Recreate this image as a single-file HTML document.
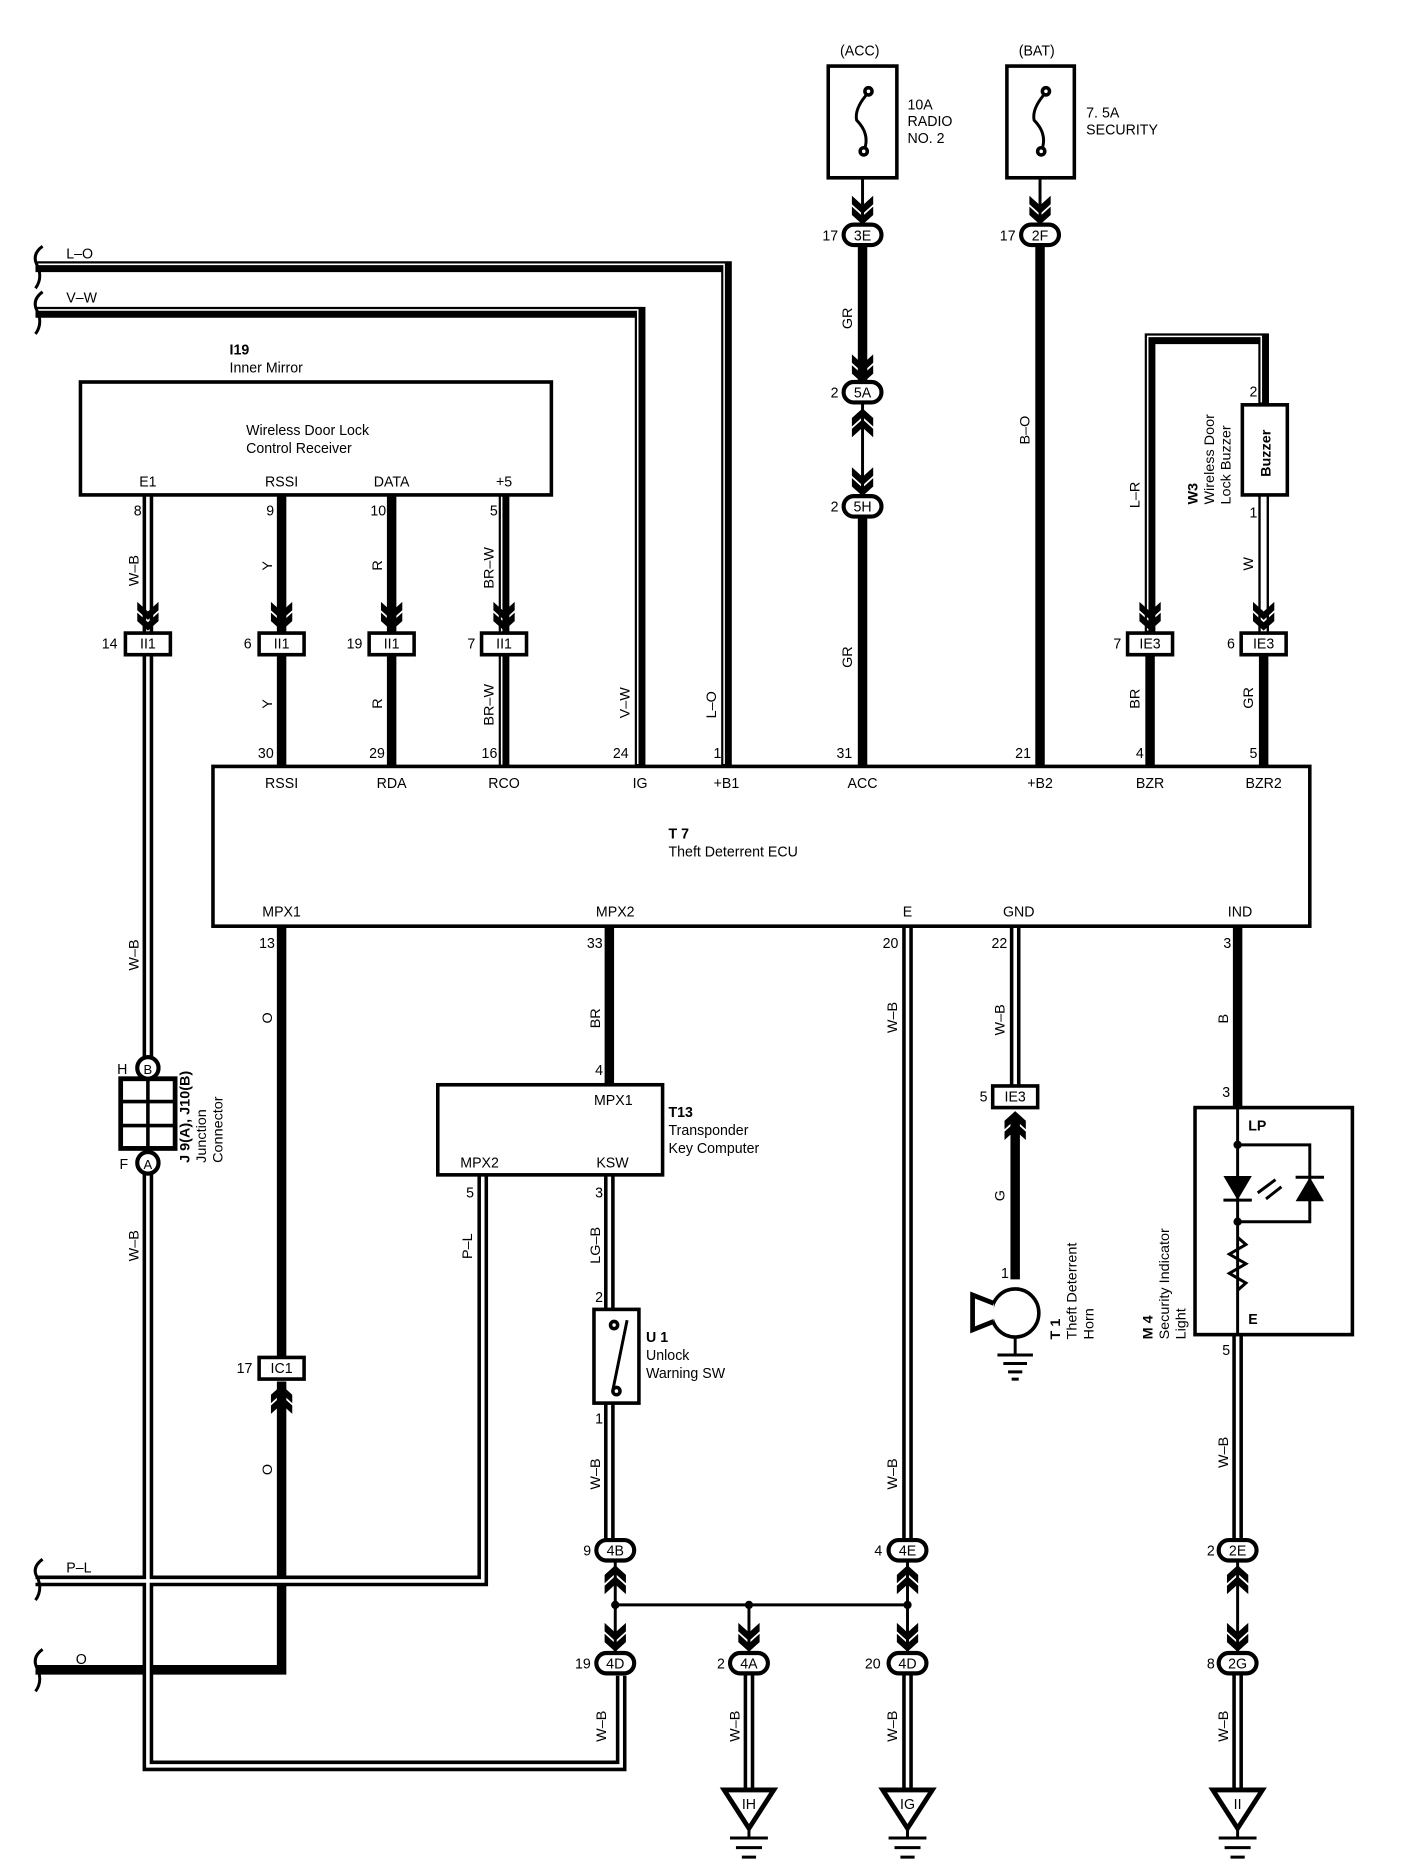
<!DOCTYPE html>
<html><head><meta charset="utf-8"><style>
html,body{margin:0;padding:0;background:#fff;}
svg{display:block}
text{font-family:"Liberation Sans",sans-serif;font-size:12px;fill:#000}
.b{font-weight:bold}
.k{fill:none;stroke:#000;stroke-width:8}
.dk{fill:none;stroke:#000;stroke-width:9}
.dw{fill:none;stroke:#fff;stroke-width:3}
.sw{fill:none;stroke:#fff;stroke-width:1.3}
.t{fill:none;stroke:#000;stroke-width:2.5}
.box{fill:#fff;stroke:#000;stroke-width:3}
.cb{fill:#fff;stroke:#000;stroke-width:3}
.ov{fill:#fff;stroke:#000;stroke-width:3.5}
</style></head><body>
<svg width="1408" height="1874" viewBox="0 0 1190 1560" preserveAspectRatio="none" xmlns="http://www.w3.org/2000/svg">
<defs>
<path id="chd" d="M-9,-18 L0,-10 L9,-18 L9,-11 L0,-3 L-9,-11 Z M-9,-27 L0,-19 L9,-27 L9,-20 L0,-12 L-9,-20 Z" fill="#000"/>
</defs>

<!-- thick wires -->
<path class="k" d="M729 205 V318"/>
<path class="k" d="M729 430 V638"/>
<path class="k" d="M879 205 V638"/>
<path class="k" d="M238 412 V527 M238 545 V638"/>
<path class="k" d="M331 412 V527 M331 545 V638"/>
<path class="k" d="M238 771 V1130 M238 1150 V1390 H30"/>
<path class="k" d="M515 771 V903"/>
<path class="k" d="M972 545 V638 M1068 545 V638"/>
<path class="k" d="M1046 771 V922"/>
<path class="k" d="M858 930 V1065"/>

<!-- striped wires -->
<path class="dk" d="M30 222 H614 V638"/><path class="sw" d="M30 222 H614 V638" transform="translate(-2,-2)"/>
<path class="dk" d="M30 260 H541 V638"/><path class="sw" d="M30 260 H541 V638" transform="translate(-2,-2)"/>
<path class="dk" d="M426 412 V527 M426 545 V638"/><path class="sw" d="M426 412 V527 M426 545 V638" transform="translate(-2,0)"/>
<path class="dk" d="M972 527 V282 H1068 V337"/><path class="sw" d="M972 527 V282 H1068 V337" transform="translate(-2,-2)"/>

<!-- double wires -->
<g>
<path class="dk" d="M125 412 V527 M125 545 V880 M125 975 V1470 H525 V1395"/>
<path class="dk" d="M408 978 V1316 H30"/>
<path class="dk" d="M515 978 V1090 M515 1168 V1282"/>
<path class="dk" d="M767 771 V1282"/>
<path class="dk" d="M858 771 V904"/>
<path class="dk" d="M1046 1111 V1282"/>
<path class="dk" d="M633 1393 V1492 M767 1393 V1492 M1046 1393 V1492"/>
<path class="dw" d="M125 412 V527 M125 545 V880 M125 975 V1470 H525 V1395"/>
<path class="dw" d="M408 978 V1316 H30"/>
<path class="dw" d="M515 978 V1090 M515 1168 V1282"/>
<path class="dw" d="M767 771 V1282"/>
<path class="dw" d="M858 771 V904"/>
<path class="dw" d="M1046 1111 V1282"/>
<path class="dw" d="M633 1393 V1492 M767 1393 V1492 M1046 1393 V1492"/>
<path d="M1068 412 V527" fill="none" stroke="#000" stroke-width="9"/>
<path d="M1068 412 V527" fill="none" stroke="#fff" stroke-width="5"/>
</g>

<!-- wire brace ends -->
<path d="M36 205 Q26 212 32 222 Q36 232 30 240 M36 243 Q26 250 32 260 Q36 270 30 278" class="t" stroke-width="3"/>
<path d="M36 1298 Q26 1305 32 1314 Q36 1324 30 1332 M36 1373 Q26 1380 32 1390 Q36 1400 30 1408" class="t" stroke-width="3"/>

<!-- thin wires -->
<path class="t" d="M729 100 V187 M879 100 V187 M729 336 V413"/>
<path class="t" d="M520 1298 V1376 M520 1336 H767 M633 1336 V1376 M767 1298 V1376 M1046 1298 V1376"/>
<circle cx="520" cy="1336" r="3.5"/><circle cx="633" cy="1336" r="3.5"/><circle cx="767" cy="1336" r="3.5"/>

<!-- fuses -->
<rect x="700" y="55" width="58" height="93" class="box" stroke-width="4"/>
<rect x="851" y="55" width="57" height="93" class="box" stroke-width="4"/>
<path d="M734 77 Q722 90 724 100 Q736 112 730 126" class="t" stroke-width="4"/>
<path d="M884 77 Q872 90 874 100 Q886 112 880 126" class="t" stroke-width="4"/>
<circle cx="734" cy="76" r="3" class="box" stroke-width="2"/><circle cx="730" cy="126" r="3" class="box" stroke-width="2"/>
<circle cx="884" cy="76" r="3" class="box" stroke-width="2"/><circle cx="880" cy="126" r="3" class="box" stroke-width="2"/>
<text x="710" y="46">(ACC)</text><text x="861" y="46">(BAT)</text>
<text x="767" y="91">10A</text><text x="767" y="105">RADIO</text><text x="767" y="119">NO. 2</text>
<text x="918" y="98">7. 5A</text><text x="918" y="112">SECURITY</text>

<!-- chevrons -->
<use href="#chd" x="729" y="190"/><use href="#chd" x="879" y="190"/>
<use href="#chd" x="729" y="322"/>
<use href="#chd" x="729" y="337" transform="rotate(180 729 337)"/>
<use href="#chd" x="729" y="416"/>
<use href="#chd" x="125" y="528"/><use href="#chd" x="238" y="528"/><use href="#chd" x="331" y="528"/><use href="#chd" x="426" y="528"/>
<use href="#chd" x="972" y="528"/><use href="#chd" x="1068" y="528"/>
<use href="#chd" x="238" y="1150" transform="rotate(180 238 1150)"/>
<use href="#chd" x="858" y="922" transform="rotate(180 858 922)"/>
<use href="#chd" x="520" y="1300" transform="rotate(180 520 1300)"/>
<use href="#chd" x="767" y="1300" transform="rotate(180 767 1300)"/>
<use href="#chd" x="1046" y="1300" transform="rotate(180 1046 1300)"/>
<use href="#chd" x="520" y="1378"/><use href="#chd" x="633" y="1378"/><use href="#chd" x="767" y="1378"/><use href="#chd" x="1046" y="1378"/>

<!-- oval connectors -->
<g>
<rect x="713" y="187" width="32" height="17" rx="8.5" class="ov"/><text x="729" y="200" text-anchor="middle">3E</text><text x="695" y="200">17</text>
<rect x="863" y="187" width="32" height="17" rx="8.5" class="ov"/><text x="879" y="200" text-anchor="middle">2F</text><text x="845" y="200">17</text>
<rect x="713" y="318" width="32" height="17" rx="8.5" class="ov"/><text x="729" y="331" text-anchor="middle">5A</text><text x="702" y="331">2</text>
<rect x="713" y="413" width="32" height="17" rx="8.5" class="ov"/><text x="729" y="426" text-anchor="middle">5H</text><text x="702" y="426">2</text>
<rect x="504" y="1282" width="32" height="17" rx="8.5" class="ov"/><text x="520" y="1295" text-anchor="middle">4B</text><text x="493" y="1295">9</text>
<rect x="751" y="1282" width="32" height="17" rx="8.5" class="ov"/><text x="767" y="1295" text-anchor="middle">4E</text><text x="739" y="1295">4</text>
<rect x="1030" y="1282" width="32" height="17" rx="8.5" class="ov"/><text x="1046" y="1295" text-anchor="middle">2E</text><text x="1020" y="1295">2</text>
<rect x="504" y="1376" width="32" height="17" rx="8.5" class="ov"/><text x="520" y="1389" text-anchor="middle">4D</text><text x="486" y="1389">19</text>
<rect x="617" y="1376" width="32" height="17" rx="8.5" class="ov"/><text x="633" y="1389" text-anchor="middle">4A</text><text x="606" y="1389">2</text>
<rect x="751" y="1376" width="32" height="17" rx="8.5" class="ov"/><text x="767" y="1389" text-anchor="middle">4D</text><text x="731" y="1389">20</text>
<rect x="1030" y="1376" width="32" height="17" rx="8.5" class="ov"/><text x="1046" y="1389" text-anchor="middle">2G</text><text x="1020" y="1389">8</text>
</g>

<!-- rect connectors -->
<g>
<rect x="106" y="527" width="38" height="18" class="cb"/><text x="125" y="540" text-anchor="middle">II1</text><text x="86" y="540">14</text>
<rect x="219" y="527" width="38" height="18" class="cb"/><text x="238" y="540" text-anchor="middle">II1</text><text x="206" y="540">6</text>
<rect x="312" y="527" width="38" height="18" class="cb"/><text x="331" y="540" text-anchor="middle">II1</text><text x="293" y="540">19</text>
<rect x="407" y="527" width="38" height="18" class="cb"/><text x="426" y="540" text-anchor="middle">II1</text><text x="395" y="540">7</text>
<rect x="953" y="527" width="38" height="18" class="cb"/><text x="972" y="540" text-anchor="middle">IE3</text><text x="941" y="540">7</text>
<rect x="1049" y="527" width="38" height="18" class="cb"/><text x="1068" y="540" text-anchor="middle">IE3</text><text x="1037" y="540">6</text>
<rect x="219" y="1130" width="38" height="18" class="cb"/><text x="238" y="1143" text-anchor="middle">IC1</text><text x="200" y="1143">17</text>
<rect x="839" y="904" width="38" height="18" class="cb"/><text x="858" y="917" text-anchor="middle">IE3</text><text x="828" y="917">5</text>
</g>

<!-- inner mirror -->
<rect x="68" y="318" width="398" height="94" class="box"/>
<text x="194" y="295" class="b">I19</text><text x="194" y="310">Inner Mirror</text>
<text x="208" y="362">Wireless Door Lock</text><text x="208" y="377">Control Receiver</text>
<text x="125" y="405" text-anchor="middle">E1</text><text x="238" y="405" text-anchor="middle">RSSI</text>
<text x="331" y="405" text-anchor="middle">DATA</text><text x="426" y="405" text-anchor="middle">+5</text>
<text x="113" y="429">8</text><text x="225" y="429">9</text><text x="313" y="429">10</text><text x="414" y="429">5</text>

<!-- ECU -->
<rect x="180" y="638" width="927" height="133" class="box"/>
<text x="565" y="698" class="b">T 7</text><text x="565" y="713">Theft Deterrent ECU</text>
<g text-anchor="middle">
<text x="238" y="656">RSSI</text><text x="331" y="656">RDA</text><text x="426" y="656">RCO</text><text x="541" y="656">IG</text>
<text x="614" y="656">+B1</text><text x="729" y="656">ACC</text><text x="879" y="656">+B2</text><text x="972" y="656">BZR</text><text x="1068" y="656">BZR2</text>
<text x="238" y="763">MPX1</text><text x="520" y="763">MPX2</text><text x="767" y="763">E</text><text x="861" y="763">GND</text><text x="1048" y="763">IND</text>
</g>
<text x="218" y="631">30</text><text x="312" y="631">29</text><text x="407" y="631">16</text><text x="518" y="631">24</text>
<text x="603" y="631">1</text><text x="707" y="631">31</text><text x="858" y="631">21</text><text x="960" y="631">4</text><text x="1056" y="631">5</text>
<text x="219" y="789">13</text><text x="496" y="789">33</text><text x="746" y="789">20</text><text x="838" y="789">22</text><text x="1034" y="789">3</text>

<!-- T13 -->
<rect x="370" y="903" width="190" height="75" class="box"/>
<text x="502" y="920">MPX1</text><text x="389" y="972">MPX2</text><text x="504" y="972">KSW</text>
<text x="565" y="930" class="b">T13</text><text x="565" y="945">Transponder</text><text x="565" y="960">Key Computer</text>
<text x="503" y="895">4</text><text x="394" y="997">5</text><text x="503" y="997">3</text>

<!-- U1 switch -->
<rect x="502" y="1090" width="38" height="78" class="box"/>
<path d="M530 1099 L518 1157" class="t" stroke-width="3"/>
<circle cx="519" cy="1103" r="3" class="box" stroke-width="2"/><circle cx="521" cy="1158" r="3" class="box" stroke-width="2"/>
<text x="546" y="1117" class="b">U 1</text><text x="546" y="1132">Unlock</text><text x="546" y="1147">Warning SW</text>
<text x="503" y="1084">2</text><text x="503" y="1185">1</text>

<!-- junction connector -->
<rect x="102" y="898" width="46" height="58" fill="#fff" stroke="#000" stroke-width="4"/>
<path d="M125 898 V956 M102 917 H148 M102 937 H148" stroke="#000" stroke-width="3"/>
<circle cx="125" cy="889" r="9" class="ov"/><text x="125" y="894" text-anchor="middle" style="font-size:11px">B</text>
<circle cx="125" cy="968" r="9" class="ov"/><text x="125" y="973" text-anchor="middle" style="font-size:11px">A</text>
<text x="99" y="894">H</text><text x="101" y="973">F</text>
<g transform="rotate(-90 160 968)"><text x="160" y="968" class="b">J 9(A), J10(B)</text><text x="160" y="982">Junction</text><text x="160" y="996">Connector</text></g>

<!-- buzzer -->
<rect x="1050" y="337" width="38" height="75" class="box"/>
<g transform="rotate(-90 1074 397)"><text x="1074" y="397" class="b">Buzzer</text></g>
<text x="1056" y="330">2</text><text x="1056" y="431">1</text>
<g transform="rotate(-90 1012 420)"><text x="1012" y="420" class="b">W3</text><text x="1012" y="434">Wireless Door</text><text x="1012" y="448">Lock Buzzer</text></g>

<!-- horn -->
<circle cx="858" cy="1093" r="20" class="box" stroke-width="4"/>
<path d="M840 1085 L822 1078 V1107 L840 1100" fill="#fff" stroke="#000" stroke-width="4"/>
<path d="M858 1113 V1128 M843 1128 H873 M848 1135 H868 M852 1142 H864 M855 1148 H861" class="t" stroke-width="3"/>
<text x="846" y="1064">1</text>
<g transform="rotate(-90 896 1115)"><text x="896" y="1115" class="b">T 1</text><text x="896" y="1129">Theft Deterrent</text><text x="896" y="1143">Horn</text></g>

<!-- lamp -->
<rect x="1010" y="922" width="133" height="189" class="box"/>
<path d="M1046 922 V1111" class="t"/>
<path d="M1046 953 H1107 V1017 H1046" class="t"/>
<circle cx="1046" cy="953" r="3.5"/><circle cx="1046" cy="1017" r="3.5"/>
<path d="M1034 979 H1058 L1046 999 Z" fill="#000"/><path d="M1034 999 H1058" class="t"/>
<path d="M1095 1000 H1119 L1107 980 Z" fill="#000"/><path d="M1095 980 H1119" class="t"/>
<path d="M1063 993 L1078 982 M1070 998 L1083 988" class="t" stroke-width="3"/>
<path d="M1046 1030 L1053 1036 L1039 1044 L1053 1052 L1039 1060 L1053 1068 L1046 1074" class="t" stroke-width="3"/>
<text x="1055" y="941" class="b">LP</text><text x="1055" y="1102" class="b">E</text>
<text x="1033" y="913">3</text><text x="1033" y="1128">5</text>
<g transform="rotate(-90 974 1115)"><text x="974" y="1115" class="b">M 4</text><text x="974" y="1129">Security Indicator</text><text x="974" y="1143">Light</text></g>

<!-- grounds -->
<g>
<path d="M612 1490 H654 L633 1522 Z M746 1490 H788 L767 1522 Z M1025 1490 H1067 L1046 1522 Z" fill="#fff" stroke="#000" stroke-width="4"/>
<path d="M633 1522 V1530 M617 1530 H649 M622 1538 H644 M627 1546 H639 M767 1522 V1530 M751 1530 H783 M756 1538 H778 M761 1546 H773 M1046 1522 V1530 M1030 1530 H1062 M1035 1538 H1057 M1040 1546 H1052" class="t" stroke-width="3"/>
<text x="633" y="1506" text-anchor="middle">IH</text><text x="767" y="1506" text-anchor="middle">IG</text><text x="1046" y="1506" text-anchor="middle">II</text>
</g>

<!-- horizontal wire labels -->
<text x="56" y="215">L–O</text><text x="56" y="252">V–W</text><text x="56" y="1309">P–L</text><text x="64" y="1385">O</text>

<!-- vertical wire labels -->
<g style="font-size:11px">
<text transform="translate(117,488) rotate(-90)">W–B</text>
<text transform="translate(230,475) rotate(-90)">Y</text>
<text transform="translate(323,475) rotate(-90)">R</text>
<text transform="translate(417,490) rotate(-90)">BR–W</text>
<text transform="translate(720,274) rotate(-90)">GR</text>
<text transform="translate(720,556) rotate(-90)">GR</text>
<text transform="translate(870,370) rotate(-90)">B–O</text>
<text transform="translate(963,423) rotate(-90)">L–R</text>
<text transform="translate(1059,475) rotate(-90)">W</text>
<text transform="translate(230,590) rotate(-90)">Y</text>
<text transform="translate(323,590) rotate(-90)">R</text>
<text transform="translate(417,604) rotate(-90)">BR–W</text>
<text transform="translate(532,598) rotate(-90)">V–W</text>
<text transform="translate(605,598) rotate(-90)">L–O</text>
<text transform="translate(963,590) rotate(-90)">BR</text>
<text transform="translate(1059,590) rotate(-90)">GR</text>
<text transform="translate(117,808) rotate(-90)">W–B</text>
<text transform="translate(230,852) rotate(-90)">O</text>
<text transform="translate(507,856) rotate(-90)">BR</text>
<text transform="translate(758,860) rotate(-90)">W–B</text>
<text transform="translate(849,862) rotate(-90)">W–B</text>
<text transform="translate(1038,852) rotate(-90)">B</text>
<text transform="translate(117,1050) rotate(-90)">W–B</text>
<text transform="translate(399,1048) rotate(-90)">P–L</text>
<text transform="translate(507,1052) rotate(-90)">LG–B</text>
<text transform="translate(849,1000) rotate(-90)">G</text>
<text transform="translate(230,1228) rotate(-90)">O</text>
<text transform="translate(507,1240) rotate(-90)">W–B</text>
<text transform="translate(758,1240) rotate(-90)">W–B</text>
<text transform="translate(1038,1222) rotate(-90)">W–B</text>
<text transform="translate(512,1450) rotate(-90)">W–B</text>
<text transform="translate(625,1450) rotate(-90)">W–B</text>
<text transform="translate(758,1450) rotate(-90)">W–B</text>
<text transform="translate(1038,1450) rotate(-90)">W–B</text>
</g>
</svg>
</body></html>
